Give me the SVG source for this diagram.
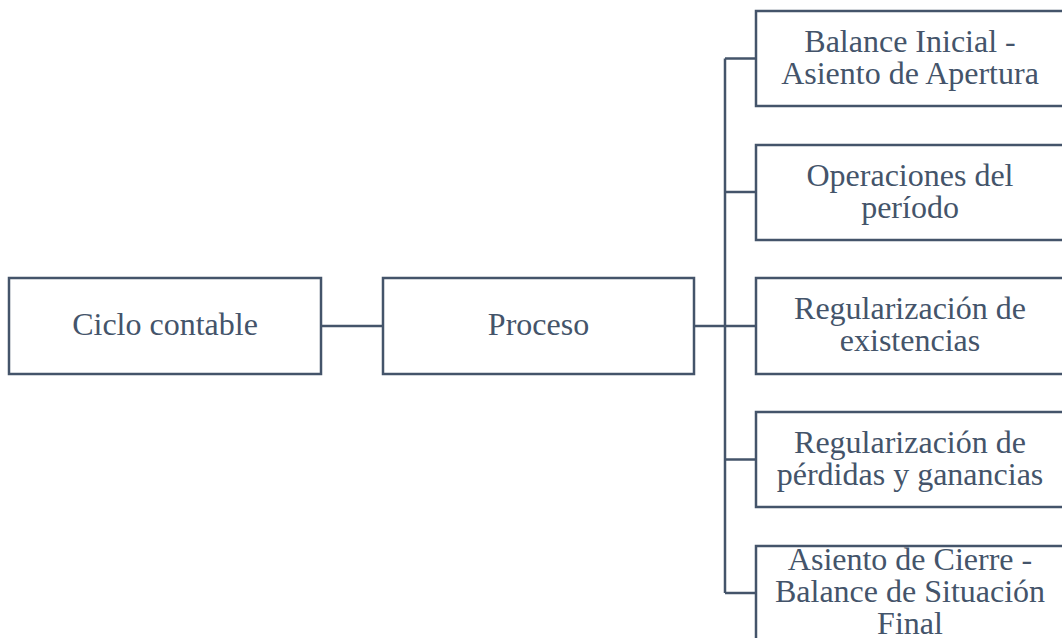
<svg xmlns="http://www.w3.org/2000/svg" width="1062" height="638" viewBox="0 0 1062 638">
  <style>
    .box { fill: #ffffff; stroke: #44546a; stroke-width: 2.5; }
    .link { fill: none; stroke: #44546a; stroke-width: 2.5; }
    .label { font-family: "Liberation Serif", "Times New Roman", serif; font-size: 32px; fill: #44546a; text-anchor: middle; }
  </style>
  <rect width="1062" height="638" fill="#ffffff"/>

  <!-- connectors -->
  <g id="connectors">
    <line class="link" x1="321" y1="326" x2="383" y2="326"/>
    <line class="link" x1="694" y1="326" x2="725" y2="326"/>
    <line class="link" x1="725" y1="58.5" x2="725" y2="593"/>
    <line class="link" x1="725" y1="58.5" x2="756" y2="58.5"/>
    <line class="link" x1="725" y1="192" x2="756" y2="192"/>
    <line class="link" x1="725" y1="326" x2="756" y2="326"/>
    <line class="link" x1="725" y1="459.5" x2="756" y2="459.5"/>
    <line class="link" x1="725" y1="593" x2="756" y2="593"/>
  </g>

  <!-- root -->
  <g id="node-ciclo">
    <rect class="box" x="9" y="278" width="312" height="96"/>
    <text class="label" x="165" y="335">Ciclo contable</text>
  </g>

  <g id="node-proceso">
    <rect class="box" x="383" y="278" width="311" height="96"/>
    <text class="label" x="538.5" y="335">Proceso</text>
  </g>

  <!-- process steps -->
  <g id="node-balance-inicial">
    <rect class="box" x="756" y="11" width="310" height="95"/>
    <text class="label" x="910" y="51.5">Balance Inicial -</text>
    <text class="label" x="910" y="83.5">Asiento de Apertura</text>
  </g>

  <g id="node-operaciones">
    <rect class="box" x="756" y="145" width="310" height="95"/>
    <text class="label" x="910" y="185.5">Operaciones del</text>
    <text class="label" x="910" y="217.5">período</text>
  </g>

  <g id="node-existencias">
    <rect class="box" x="756" y="278" width="310" height="96"/>
    <text class="label" x="910" y="319">Regularización de</text>
    <text class="label" x="910" y="351">existencias</text>
  </g>

  <g id="node-perdidas-ganancias">
    <rect class="box" x="756" y="412" width="310" height="95"/>
    <text class="label" x="910" y="452.5">Regularización de</text>
    <text class="label" x="910" y="484.5">pérdidas y ganancias</text>
  </g>

  <g id="node-cierre">
    <rect class="box" x="756" y="546" width="310" height="96"/>
    <text class="label" x="910" y="570">Asiento de Cierre -</text>
    <text class="label" x="910" y="602">Balance de Situación</text>
    <text class="label" x="910" y="634">Final</text>
  </g>
</svg>
